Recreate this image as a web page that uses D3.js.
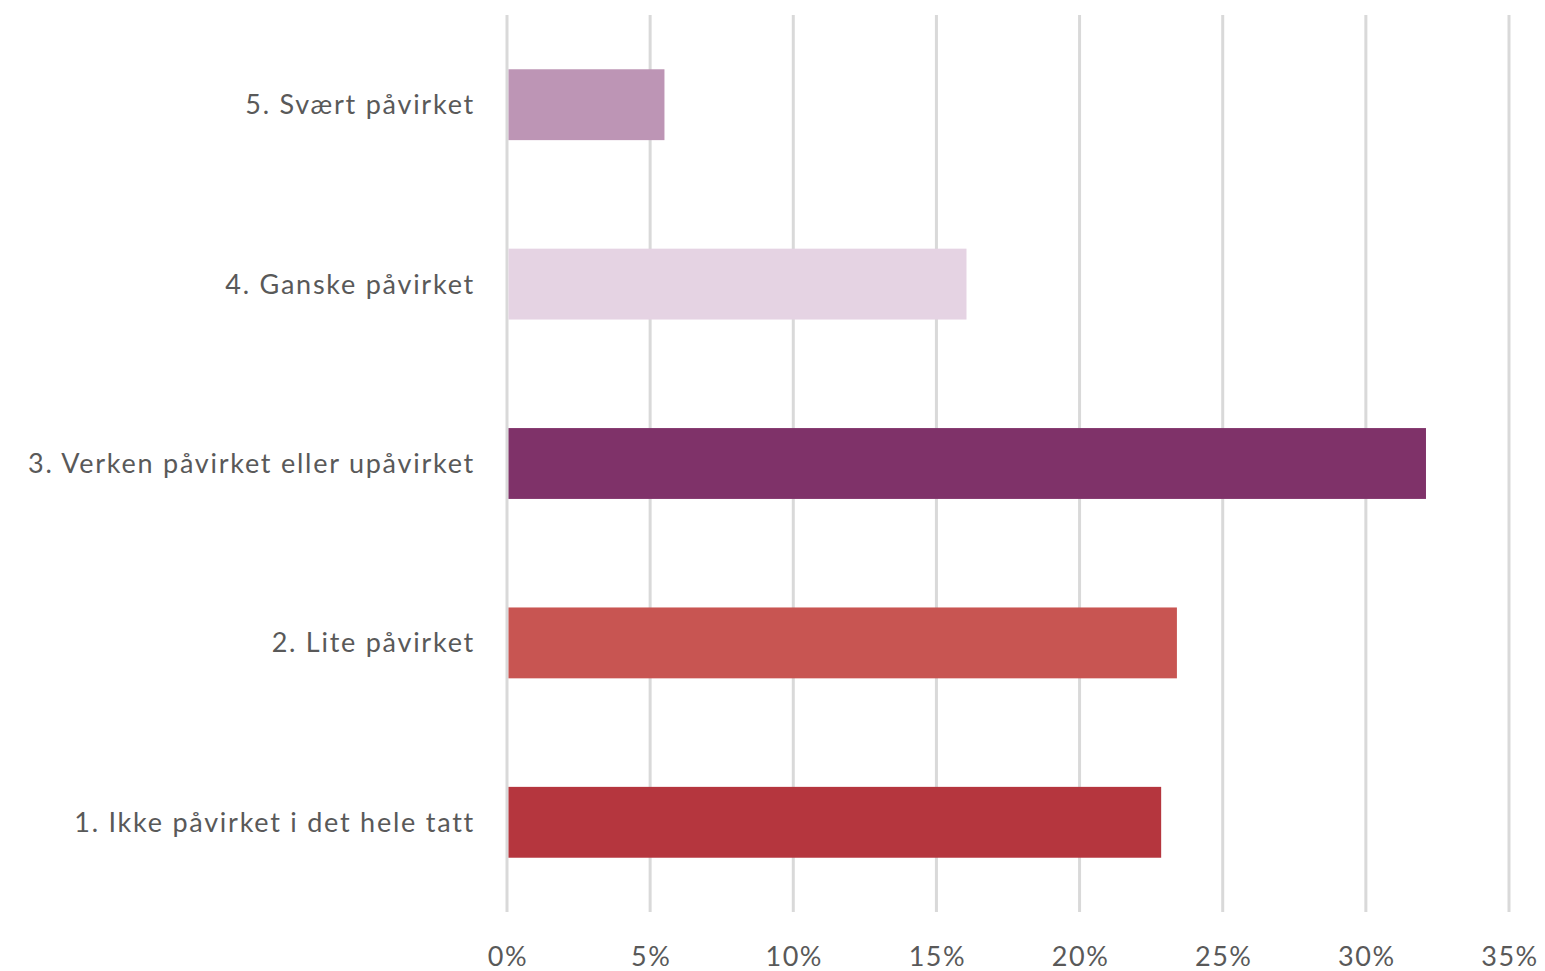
<!DOCTYPE html>
<html><head><meta charset="utf-8">
<script src="https://cdn.jsdelivr.net/npm/d3@7"></script>
<style>body{margin:0;background:#fff}svg{display:block}</style>
</head><body>
<script>
const categories = ["5. Svært påvirket","4. Ganske påvirket","3. Verken påvirket eller upåvirket","2. Lite påvirket","1. Ikke påvirket i det hele tatt"];
const values = [5.5, 16.05, 32.1, 23.4, 22.85];
const colors = ["#bd95b5","#e5d3e3","#7f3269","#c85552","#b5363e"];
const ticks = [0,5,10,15,20,25,30,35];

const W=1545,H=971;
const m={left:507,right:36,top:15,bottom:59};
const svg=d3.select("body").append("svg").attr("width",W).attr("height",H);
const x=d3.scaleLinear().domain([0,35]).range([m.left,W-m.right]);
const y=d3.scaleBand().domain(categories).range([m.top,H-m.bottom]).paddingInner(0.605).paddingOuter(0.3025);
const font="Lato, 'Open Sans', sans-serif";

svg.append("g").selectAll("line").data(ticks).join("line")
 .attr("x1",d=>x(d)).attr("x2",d=>x(d)).attr("y1",m.top).attr("y2",H-m.bottom)
 .attr("stroke","#d9d9d9").attr("stroke-width",3);

svg.append("g").selectAll("rect").data(categories).join("rect")
 .attr("x",x(0)+1.5).attr("y",d=>y(d)).attr("height",y.bandwidth())
 .attr("width",(d,i)=>x(values[i])-x(0)-1.5).attr("fill",(d,i)=>colors[i]);

svg.append("g").selectAll("text").data(categories).join("text")
 .attr("x",475).attr("y",d=>y(d)+y.bandwidth()/2).attr("dy","0.35em")
 .attr("text-anchor","end").attr("font-family",font).attr("font-size",27).attr("fill","#595959")
 .attr("letter-spacing","1.75px")
 .text(d=>d);

svg.append("g").selectAll("text").data(ticks).join("text")
 .attr("x",d=>x(d)+1).attr("y",957).attr("dy","0.35em").attr("text-anchor","middle")
 .attr("font-family",font).attr("font-size",27).attr("fill","#595959").attr("letter-spacing","1.5px").text(d=>d+"%");
</script>
</body></html>
